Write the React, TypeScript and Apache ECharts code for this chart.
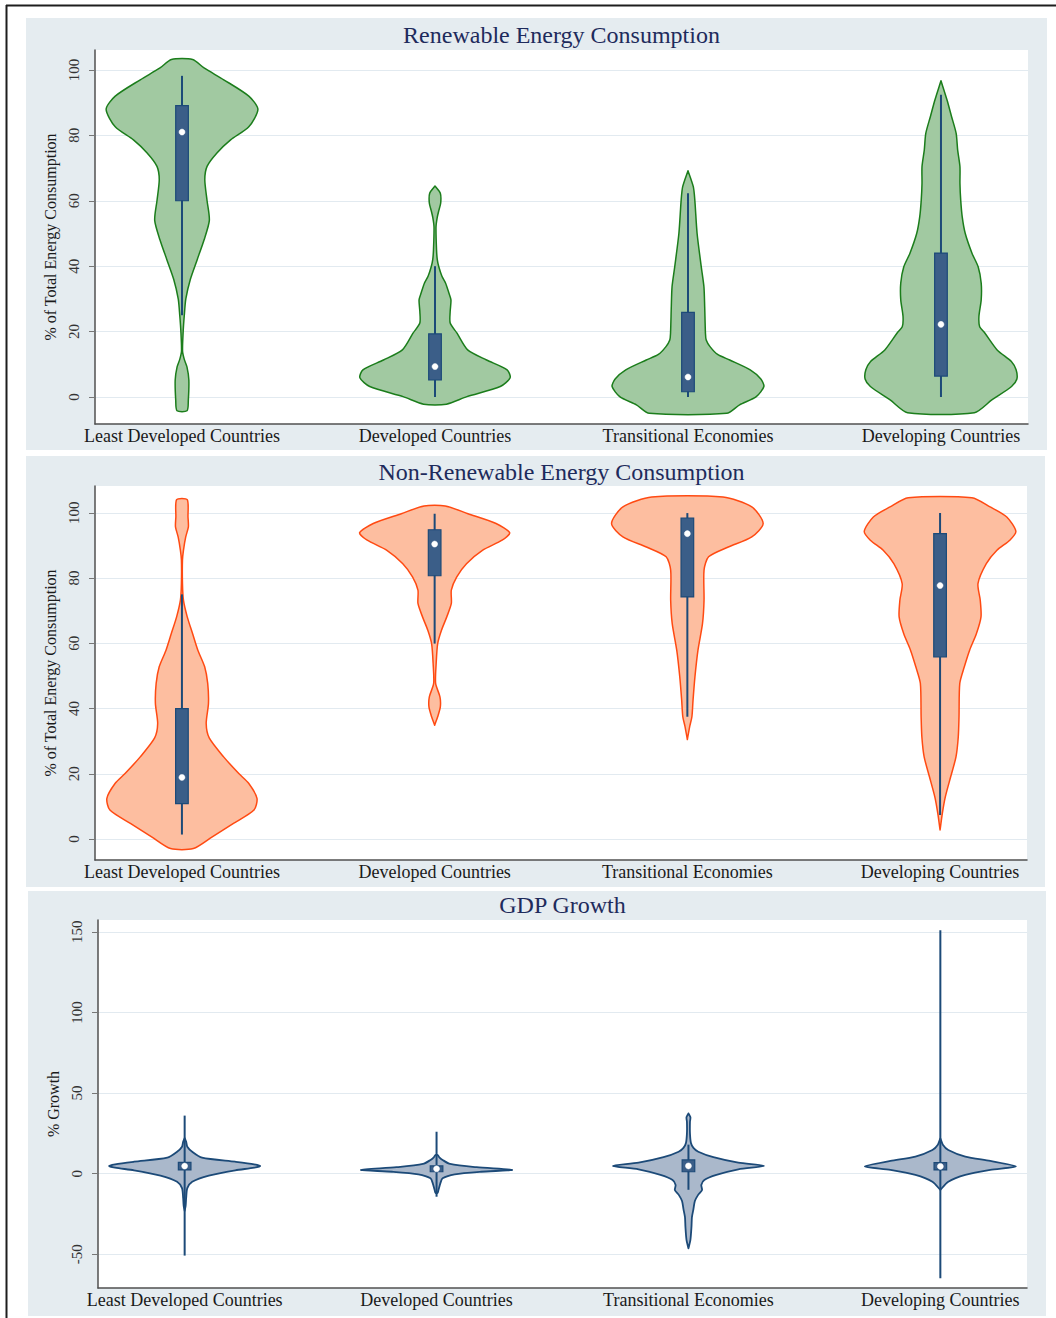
import React, { useEffect, useRef } from 'react';
import * as echarts from 'echarts';

const categories = ['Least Developed Countries', 'Developed Countries', 'Transitional Economies', 'Developing Countries'];

// Violin density profiles: [value, relative density 0-100]
const renewableLDC = [[103.2, 14], [100.6, 29], [97, 55], [92, 88], [88, 100], [82.6, 88], [78.6, 64], [74.6, 46], [70.5, 33], [66.4, 30], [60, 33], [54, 36], [48, 29], [42, 20], [36, 11], [30, 5], [25, 3], [20, 1.5], [14, 0.7], [11.5, 3], [9.2, 6.5], [5.2, 9], [-1, 8.3], [-4.2, 6.6]];
const renewableDeveloped = [[64.5, 0], [62.3, 7], [59.3, 7.5], [57, 5], [55, 3], [52, 1.3], [45, 2], [42, 3], [39.8, 5], [37, 9], [34.8, 14], [32, 18], [29.7, 21], [26.2, 20], [22.6, 20], [19.5, 29], [14.4, 43], [11.3, 68], [8.3, 95], [5.9, 99], [3.2, 86], [0.1, 42], [-2.2, 15]];
const renewableTransitional = [[69.2, 0], [64.3, 7], [60.2, 9], [50, 12], [39.8, 17.5], [33.7, 21], [27.6, 22], [19.5, 23], [17.4, 24], [15.4, 29], [13, 39], [11.3, 55], [8.3, 82], [5.5, 96], [3.2, 100], [0.1, 90], [-2.4, 68], [-5, 51]];
const renewableDeveloping = [[96.7, 0], [90.8, 8], [85.7, 14], [80.6, 20], [75.5, 22], [70.4, 25], [65.3, 25], [60.2, 26], [55.1, 28], [50, 32], [43.9, 41], [39.8, 49], [34.8, 53], [29.7, 53], [24.6, 50], [21.5, 51], [19.5, 58], [14.4, 74], [10.8, 93], [8.3, 99], [5.5, 100], [3.2, 93], [-0.9, 67], [-4.8, 44]];

const nonRenewableLDC = [[104, 7], [98.7, 8], [95.7, 8.5], [92.6, 5], [88.5, 2], [85.5, 0.7], [78.3, 0.7], [73.2, 2], [68.1, 7], [63, 14], [57.9, 21], [52.8, 30], [47.7, 34], [41.6, 35], [35.4, 32], [31, 36], [25.2, 55], [20.1, 75], [17.1, 88], [12.5, 99], [8.9, 95], [4.8, 68], [0.7, 40], [-2.9, 15]];
const nonRenewableDeveloped = [[102.1, 14], [99.7, 44], [96.7, 81], [93.9, 99], [91.6, 89], [88.5, 63], [84.4, 42], [80.3, 29], [76.3, 22], [72.2, 22], [68.1, 16], [64, 9], [59.9, 4], [53.8, 2], [47.7, 1.3], [43.6, 7], [40.5, 7.5], [37.5, 4], [34.9, 0]];
const nonRenewableTransitional = [[104.8, 47], [101.8, 85], [96.7, 100], [92.6, 85], [89.5, 54], [86.5, 28], [82.4, 22], [73.2, 22], [66.1, 20], [57.9, 14], [49.7, 10], [42.6, 7.5], [37.5, 6], [34.4, 3], [30.5, 0]];
const nonRenewableDeveloping = [[104.6, 42], [101.8, 66], [98.7, 88], [94.3, 100], [91.6, 92], [88.5, 75], [84.4, 61], [78.3, 50], [73.2, 53], [68.1, 54], [63, 48], [57.9, 39], [52.8, 32], [47.7, 26], [37.5, 25], [31.3, 24], [25.2, 21], [19.1, 14], [13, 7], [7.9, 3], [2.8, 0]];

const gdpLDC = [[22, 0], [19.8, 2], [16.7, 3.5], [13.6, 10], [9.9, 23], [7.4, 67], [5.8, 92], [4.8, 100], [3.7, 92], [2.1, 67], [-1.2, 32], [-5, 10], [-9, 3.5], [-15, 2], [-20, 1.3], [-23, 0]];
const gdpDeveloped = [[11.6, 1.3], [10, 4], [8.5, 8], [6, 18], [4, 53], [2.3, 100], [1.2, 59], [-0.4, 24], [-2.9, 8], [-6, 5], [-10, 2.6], [-12, 1.3]];
const gdpTransitional = [[37.4, 0], [35, 2.6], [32, 2], [25, 2], [19, 3.3], [16, 6.6], [13.6, 13], [10.2, 33], [6.8, 66], [4.8, 100], [2.7, 66], [-0.8, 37], [-3.9, 21], [-7, 17], [-10.1, 18], [-13, 13], [-17, 8.5], [-22, 6.6], [-27, 4.6], [-33, 4], [-41, 2.6], [-46.3, 0]];
const gdpDeveloping = [[21.9, 0], [18, 3.3], [14.7, 10.5], [10.6, 33], [7.9, 66], [4.5, 100], [2.3, 66], [-0.8, 33], [-5, 10.5], [-10.1, 0]];

// Box statistics: [lower whisker, Q1, median, Q3, upper whisker]
const renewableBox = [[25, 60, 81, 89.1, 98.2], [0, 5.2, 9.3, 19.3, 40], [0, 1.6, 6.1, 25.9, 62.3], [0, 6.4, 22.2, 44, 92.4]];
const nonRenewableBox = [[1.4, 10.9, 18.9, 40, 75], [59.9, 80.7, 90.4, 94.8, 99.7], [37.5, 74.2, 93.6, 98.4, 99.9], [7.4, 55.8, 77.7, 93.6, 99.9]];
const gdpBox = [[-50.8, 2.3, 4.7, 7, 36], [-14.3, 1.2, 3, 4.8, 26], [-10, 1.2, 4.8, 8.5, 18], [-64.8, 2.3, 4.5, 6.8, 151]];

// Tick labels
const energyTicks = [0, 20, 40, 60, 80, 100];
const gdpTicks = [-50, 0, 50, 100, 150];
const categoryTicks = [1, 2, 3, 4];

const titles = ['Renewable Energy Consumption', 'Non-Renewable Energy Consumption', 'GDP Growth'];
const yNames = ['% of Total Energy Consumption', '% of Total Energy Consumption', '% Growth'];

const FONT = '"Liberation Serif", "Times New Roman", serif';
const HALF = 0.3;
const BOX_HALF = 0.025;
const NAVY = '#1c4a78';

function violinSeries(g: number, profiles: number[][][], fill: string, stroke: string, lw: number) {
  return {
    type: 'custom',
    xAxisIndex: g,
    yAxisIndex: g,
    z: 2,
    clip: false,
    data: profiles.map((p, i) => [i + 1, p[0][0]]),
    renderItem: (params: any, api: any) => {
      const cx = api.value(0);
      const prof = profiles[params.dataIndex];
      const right = prof.map(([v, d]) => api.coord([cx + (d / 100) * HALF, v]));
      const left = prof.slice().reverse().map(([v, d]) => api.coord([cx - (d / 100) * HALF, v]));
      return {
        type: 'polygon',
        shape: { points: right.concat(left), smooth: 0.25 },
        style: { fill, stroke, lineWidth: lw, lineJoin: 'round' },
      };
    },
  };
}

function boxSeries(g: number, stats: number[][]) {
  return {
    type: 'custom',
    xAxisIndex: g,
    yAxisIndex: g,
    z: 3,
    clip: false,
    data: stats.map((s, i) => [i + 1, s[2]]),
    renderItem: (params: any, api: any) => {
      const cx = api.value(0);
      const [lo, q1, med, q3, hi] = stats[params.dataIndex];
      const pLo = api.coord([cx, lo]);
      const pHi = api.coord([cx, hi]);
      const pA = api.coord([cx - BOX_HALF, q1]);
      const pB = api.coord([cx + BOX_HALF, q3]);
      const pM = api.coord([cx, med]);
      return {
        type: 'group',
        children: [
          { type: 'line', shape: { x1: pLo[0], y1: pLo[1], x2: pHi[0], y2: pHi[1] }, style: { stroke: NAVY, lineWidth: 2 } },
          { type: 'rect', shape: { x: pA[0], y: pB[1], width: pB[0] - pA[0], height: pA[1] - pB[1] }, style: { fill: '#3b5e88', stroke: NAVY, lineWidth: 1.2 } },
          { type: 'circle', shape: { cx: pM[0], cy: pM[1], r: 3 }, style: { fill: '#ffffff', stroke: '#ffffff', lineWidth: 0.5 } },
        ],
      };
    },
  };
}

function xAxis(g: number) {
  return {
    gridIndex: g,
    type: 'value',
    min: 0.656,
    max: 4.344,
    axisLine: { show: true, onZero: false, lineStyle: { color: '#505050', width: 1.5 } },
    axisTick: { show: false },
    splitLine: { show: false },
    axisLabel: {
      customValues: categoryTicks,
      formatter: (v: number) => categories[Math.round(v) - 1] || '',
      fontFamily: FONT,
      fontSize: 18,
      color: '#1a1a1a',
      margin: 3,
    },
  };
}

function yAxis(g: number, min: number, max: number, ticks: number[]) {
  return {
    gridIndex: g,
    type: 'value',
    min,
    max,
    name: yNames[g],
    nameLocation: 'middle',
    nameRotate: 90,
    nameGap: 33,
    nameTextStyle: { fontFamily: FONT, fontSize: 16, color: '#1a1a1a' },
    axisLine: { show: true, lineStyle: { color: '#505050', width: 1.5 } },
    axisTick: { show: true, length: 6, customValues: ticks, lineStyle: { color: '#777' } },
    axisLabel: { customValues: ticks, rotate: 90, margin: 14, fontFamily: FONT, fontSize: 15, color: '#333' },
    splitLine: { show: true, lineStyle: { color: '#e2eaf0', width: 1.2 } },
  };
}

const panelBg = '#e5ecf0';

export default function App() {
  const ref = useRef<HTMLDivElement>(null);
  useEffect(() => {
    if (!ref.current) return;
    const chart = echarts.init(ref.current, undefined, { renderer: 'svg' });
    const titleY = [35, 472, 905];
    const option: any = {
      animation: false,
      backgroundColor: '#ffffff',
      grid: [
        { left: 95, top: 50, width: 933, height: 374, show: true, backgroundColor: '#ffffff', borderWidth: 0 },
        { left: 95, top: 486, width: 932, height: 374, show: true, backgroundColor: '#ffffff', borderWidth: 0 },
        { left: 98, top: 920, width: 929, height: 368, show: true, backgroundColor: '#ffffff', borderWidth: 0 },
      ],
      xAxis: [xAxis(0), xAxis(1), xAxis(2)],
      yAxis: [
        yAxis(0, -8.26, 106.1, energyTicks),
        yAxis(1, -6.4, 108.2, energyTicks),
        yAxis(2, -70.9, 157.3, gdpTicks),
      ],
      graphic: [
        { type: 'rect', z: -10, shape: { x: 26, y: 18, width: 1021, height: 432 }, style: { fill: panelBg } },
        { type: 'rect', z: -10, shape: { x: 26, y: 456, width: 1019, height: 431 }, style: { fill: panelBg } },
        { type: 'rect', z: -10, shape: { x: 28, y: 891, width: 1018, height: 425 }, style: { fill: panelBg } },
        { type: 'line', z: 10, shape: { x1: 6, y1: 5.5, x2: 1056, y2: 5.5 }, style: { stroke: '#1e1e1e', lineWidth: 2 } },
        { type: 'line', z: 10, shape: { x1: 6.5, y1: 5, x2: 6.5, y2: 1318 }, style: { stroke: '#1e1e1e', lineWidth: 2 } },
        ...titles.map((t, i) => ({
          type: 'text',
          z: 10,
          x: i === 2 ? 562.5 : 561.5,
          y: titleY[i],
          style: { text: t, font: `24px ${FONT}`, fill: '#1e2b5c', align: 'center', verticalAlign: 'middle' },
        })),
      ],
      series: [
        violinSeries(0, [renewableLDC, renewableDeveloped, renewableTransitional, renewableDeveloping], '#a1c9a1', '#1b7d1b', 1.5),
        boxSeries(0, renewableBox),
        violinSeries(1, [nonRenewableLDC, nonRenewableDeveloped, nonRenewableTransitional, nonRenewableDeveloping], '#fdbea0', '#ff4a12', 1.5),
        boxSeries(1, nonRenewableBox),
        violinSeries(2, [gdpLDC, gdpDeveloped, gdpTransitional, gdpDeveloping], '#aab8cb', NAVY, 1.8),
        boxSeries(2, gdpBox),
      ],
    };
    chart.setOption(option);
    return () => chart.dispose();
  }, []);
  return (
    <div style={{ position: 'absolute', left: 0, top: 0, width: 1056, height: 1318 }}>
      <div ref={ref} style={{ width: 1056, height: 1318 }} />
    </div>
  );
}
